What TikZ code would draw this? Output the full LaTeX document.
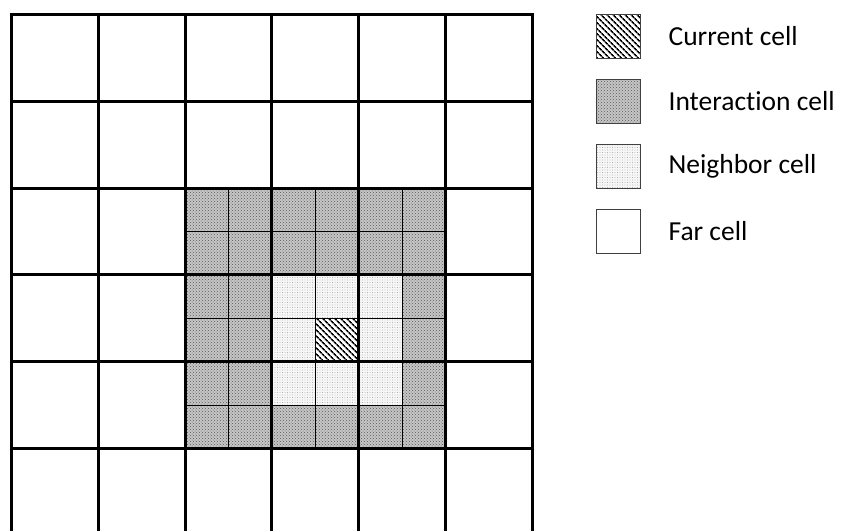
\documentclass[tikz,border=0pt]{standalone}
\usepackage{fontspec}
\setmainfont[Ligatures=NoCommon]{Carlito}
\usetikzlibrary{positioning, patterns, patterns.meta}

\begin{document}
\begin{tikzpicture}[
    x=1pt, y=-1pt,
    thickline/.style={draw, line width=3pt, line cap=rect},
    thinline/.style={draw, line width=0.9pt},
    farcell/.style={draw=black!75, line width=0.8pt, fill=white, minimum size=44pt, inner sep=0pt},
    intercell/.style={preaction={fill=gray!45}, pattern={crosshatch dots}, pattern color=black!65},
    neighcell/.style={preaction={fill=gray!6}, pattern={Dots[distance=2.5pt, radius=0.35pt]}, pattern color=gray!90},
    curcell/.style={preaction={fill=white}, pattern={Lines[angle=-45, distance=4pt, line width=1.7pt]}, pattern color=black},
    legtext/.style={font=\fontsize{27.5}{32}\selectfont, anchor=west, inner sep=0pt},
]
\useasboundingbox (0,0) rectangle (842,530);
\clip (0,0) rectangle (842,530);

% --- Interaction block (3x3 big cells, split in half) ---
\fill[intercell] (185.1,188.1) rectangle ++(260.4,260.4);
\fill[neighcell] (271.9,274.9) rectangle ++(130.2,130.2);
\fill[curcell] (315.3,318.3) rectangle ++(43.4,43.4);

% fine grid
\foreach \k in {1,...,5} {
  \draw[thinline] (185.1+\k*43.4,188.1) -- ++(0,260.4);
  \draw[thinline] (185.1,188.1+\k*43.4) -- ++(260.4,0);
}

% --- Coarse grid (6x6) ---
\draw[thickline] (11.5,14.5) rectangle ++(520.8,520.8);
\foreach \k in {1,...,5} {
  \draw[thickline] (11.5+\k*86.8,14.5) -- ++(0,520.8);
  \draw[thickline] (11.5,14.5+\k*86.8) -- ++(520.8,0);
}

% --- Legend ---
\node[farcell, curcell] (curbox) at (618,36) {};
\node[farcell, intercell] (interbox) at (618,101) {};
\node[farcell, neighcell] (neighbox) at (618,166) {};
\node[farcell] (farbox) at (618,231) {};

\node[legtext, right=28pt of curbox] (curtxt) {Current cell};
\node[legtext, right=28pt of interbox] (intertxt) {Interaction cell};
\node[legtext, right=28pt of neighbox] (neightxt) {Neighbor cell};
\node[legtext, right=28pt of farbox] (fartxt) {Far cell};
\end{tikzpicture}
\end{document}
